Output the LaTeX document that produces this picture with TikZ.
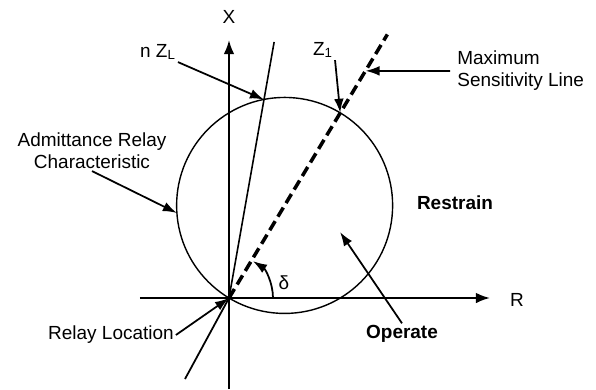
\documentclass[tikz,border=0pt]{standalone}
\usepackage{fontspec}
\setmainfont{Liberation Sans}
\usetikzlibrary{arrows.meta,calc}
\begin{document}
\begin{tikzpicture}
  [every node/.style={font=\fontsize{10.8}{12.5}\selectfont,inner sep=1pt},
   eje/.style={line width=1.1pt,-{Latex[length=8pt,width=6pt]}},
   flecha/.style={line width=1pt,-{Latex[length=8pt,width=5.5pt]}},
   fuerte/.style={font=\fontsize{10.8}{12.5}\selectfont\bfseries}]
  \useasboundingbox (-4.58,-1.82) rectangle (7.34,5.96);
  % Origen, ejes y puntos de la caracteristica
  \coordinate (o) at (0,0);
  \coordinate (xb) at (0,-1.82);
  \coordinate (xt) at (0,5.16);
  \coordinate (rb) at (-1.78,0);
  \coordinate (rt) at (5.22,0);
  \coordinate (c) at (59:2.16);
  \coordinate (z1) at (59:4.32);
  \coordinate (ms) at (59:6.15);
  \coordinate (msp) at (59:5.3);
  \coordinate (zl) at (80:4.03);
  \coordinate (zt) at (80:5.2);
  \coordinate (ca) at ($(c)+(184:2.16)$);
  \coordinate (op) at (2.22,1.32);
  \coordinate (lb) at (-0.88,-1.62);

  % Ejes R-X
  \draw[eje] (xb) -- (xt);
  \draw[eje] (rb) -- (rt);
  \node (xl) at (0,5.62) {X};
  \node (rl) at (5.76,-0.04) {R};

  % Circulo de admitancia y rectas
  \draw[line width=0.8pt] (c) circle (2.16);
  \draw[line width=0.9pt] (o) -- (zt);
  \draw[line width=2pt,dash pattern=on 6pt off 3pt] (o) -- (ms);
  \draw[flecha] (0.88,0) arc (0:57:0.88);
  \node (dl) at (1.10,0.30) {δ};

  % Etiquetas
  \node (nzl) at (-1.42,4.92) {n Z\textsubscript{L}};
  \node (z1l) at (1.88,4.96) {Z\textsubscript{1}};
  \node[anchor=west,inner xsep=4pt,align=left] (msl) at (4.42,4.54) {Maximum\\Sensitivity Line};
  \node[align=center] (adm) at (-2.74,2.94) {Admittance Relay\\Characteristic};
  \node[fuerte] (res) at (4.52,1.90) {Restrain};
  \node[fuerte] (ope) at (3.46,-0.72) {Operate};
  \node (rel) at (-2.36,-0.74) {Relay Location};

  \foreach \from/\to in {nzl.south east/zl, z1l.south east/z1, msl.west/msp,
    adm.south/ca, ope.north/op, rel.east/o}
    \draw[flecha] (\from) -- (\to);
  \draw[line width=1pt] (lb) -- (o);
\end{tikzpicture}
\end{document}
